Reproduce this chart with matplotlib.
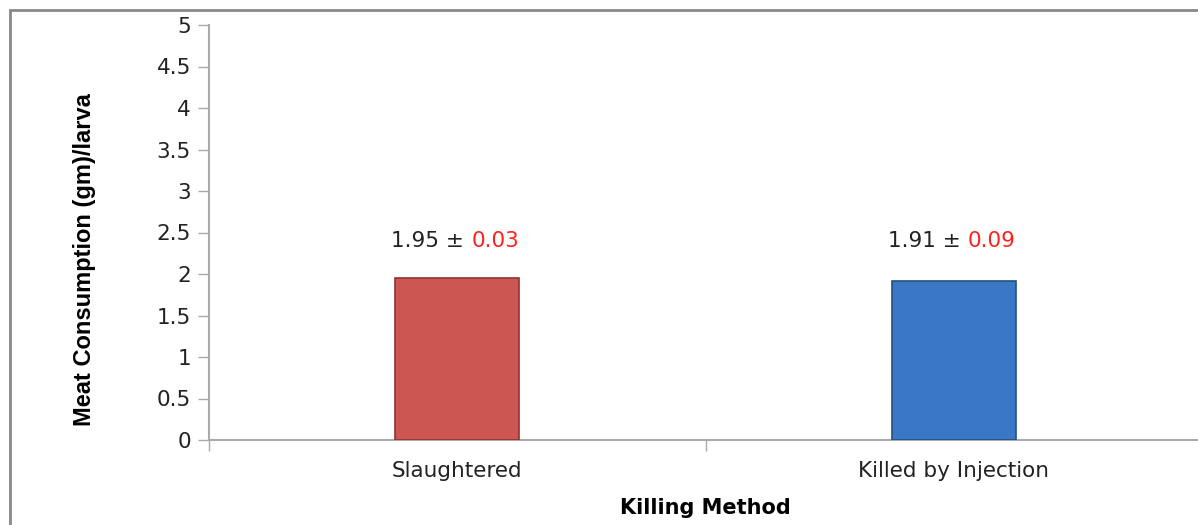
import matplotlib.pyplot as plt
from matplotlib.patches import Rectangle

methods = ['Slaughtered', 'Killed by Injection']
means = [1.95, 1.91]
errors = [0.03, 0.09]
colors = ['#CB5652', '#3A78C6']
edges = ['#8E3431', '#24507F']

fig = plt.figure(figsize=(11.98, 5.25), dpi=100)
ax = fig.add_axes([209 / 1198, 85 / 525, (1202 - 209) / 1198, (440 - 25) / 525])

x = range(len(methods))
ax.bar(x, means, width=0.25, color=colors, edgecolor=edges, linewidth=1.2, zorder=3)

# value labels: mean in black, error in red
for i, (m, e) in enumerate(zip(means, errors)):
    t = ax.annotate(f'{m:.2f} \u00b1 ', xy=(i, 2.4), ha='right', va='center',
                    xytext=(10, 0), textcoords='offset points',
                    fontsize=15.5, color='#222222', family='DejaVu Sans')
    ax.annotate(f'{e:.2f}', xy=(1, 0.5), xycoords=t, ha='left', va='center',
                fontsize=15.5, color='#FF2020', family='DejaVu Sans')

ax.set_xlim(-0.5, 1.5)
ax.set_ylim(0, 5)
ax.set_yticks([0, 0.5, 1, 1.5, 2, 2.5, 3, 3.5, 4, 4.5, 5])
ax.set_yticklabels(['0', '0.5', '1', '1.5', '2', '2.5', '3', '3.5', '4', '4.5', '5'])
ax.set_xticks([0, 1])
ax.set_xticklabels(methods)
ax.set_xticks([-0.5, 0.5, 1.5], minor=True)

for s in ['top', 'right']:
    ax.spines[s].set_visible(False)
for s in ['left', 'bottom']:
    ax.spines[s].set_color('#AAAAAA')
    ax.spines[s].set_linewidth(1.5)

ax.tick_params(axis='y', length=8, color='#AAAAAA', width=1, labelsize=15.5, pad=5)
ax.tick_params(axis='x', which='major', length=0, labelsize=15.5, pad=15)
ax.tick_params(axis='x', which='minor', length=8, color='#AAAAAA', width=1)
for lbl in ax.get_xticklabels() + ax.get_yticklabels():
    lbl.set_color('#222222')

ax.set_ylabel('Meat Consumption (gm)/larva', fontsize=17, fontweight='bold',
              family='Liberation Sans')
ax.yaxis.set_label_coords(-0.114, 0.434)
ax.set_xlabel('Killing Method', fontsize=15, fontweight='bold', labelpad=12)

# outer chart border
fig.patches.append(Rectangle((10 / 1198, -0.05), 1.2, (525 - 10) / 525 + 0.05,
                             transform=fig.transFigure, fill=False,
                             edgecolor='#888888', linewidth=2))

plt.savefig('out.png', dpi=100)
